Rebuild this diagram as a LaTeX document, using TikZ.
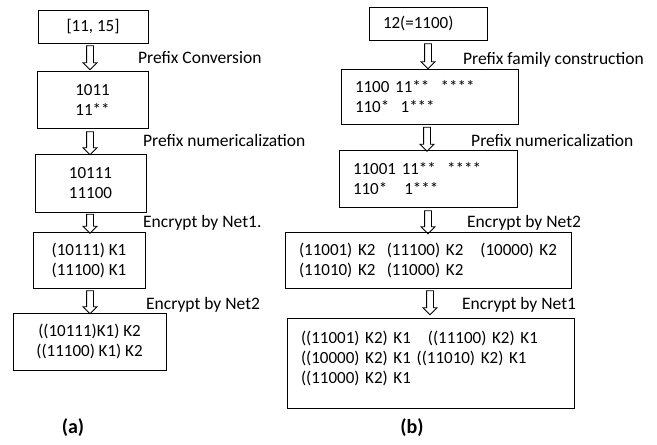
\documentclass[tikz,border=0pt]{standalone}
\usepackage{fontspec}
\setmainfont{Carlito}
\usetikzlibrary{shapes.arrows}

\begin{document}
\begin{tikzpicture}[x=1pt,y=-1pt,
  every node/.style={font=\fontsize{17.5}{20}\selectfont},
  cbox/.style={draw, line width=1pt, align=center, inner sep=0pt, font=\fontsize{17}{20}\selectfont},
  lbox/.style={draw, line width=1pt, align=left, inner xsep=14pt, inner ysep=0pt, font=\fontsize{17}{20}\selectfont},
  darrow/.style={single arrow, draw, line width=.8pt, shape border rotate=270,
    minimum width=13pt, single arrow head extend=3.5pt, inner sep=3pt, minimum height=23pt},
  steplabel/.style={anchor=west, inner sep=0pt},
  caption/.style={font=\fontsize{20}{24}\selectfont\bfseries}]
%\draw[help lines] (0,0) grid[step=20] (657,445);
\useasboundingbox (0,0) rectangle (657,445);

% (a) range
\node[cbox, minimum width=110pt, minimum height=33pt] (l1) at (93,26.5) {[11, 15]};
\node[cbox, minimum width=111pt, minimum height=57pt] (l2) at (92.5,99.5) {1011\\11**};
\node[cbox, minimum width=111pt, minimum height=58pt] (l3) at (90.5,183) {10111\\11100};
\node[cbox, minimum width=112pt, minimum height=56pt] (l4) at (89,260) {(10111) K1\\(11100) K1};
\node[cbox, minimum width=153pt, minimum height=57pt] (l5) at (89.5,341.5) {((10111)K1) K2\\((11100) K1) K2};

\node[darrow, minimum height=24pt] (la1) at (90,56) {};
\node[darrow] (la2) at (90,141.5) {};
\node[darrow, minimum height=19pt] (la3) at (90,222) {};
\node[darrow] (la4) at (90,300.5) {};

\node[steplabel] (lt1) at (138,58) {Prefix Conversion};
\node[steplabel] (lt2) at (143,140) {Prefix numericalization};
\node[steplabel] (lt3) at (143,223) {Encrypt by Net1.};
\node[steplabel] (lt4) at (146,305) {Encrypt by Net2};

\node[caption] (capa) at (73,428) {(a)};

% (b) point
\node[lbox, text width=90pt, minimum height=33pt] (r1) at (428,23.5) {12(=1100)};
\node[lbox, text width=149pt, minimum height=55pt] (r2) at (429.5,96.5) {1100 11**\ \ ****\\110*\ \ 1***};
\node[lbox, text width=150pt, minimum height=57pt] (r3) at (428,178.5) {11001 11**\ \ ****\\110*\ \ \ 1***};
\node[lbox, text width=258pt, minimum height=56pt] (r4) at (428,260)
  {\mbox{(11001) K2\ \ (11100) K2\ \ \ (10000) K2}\\\mbox{(11010) K2\ \ (11000) K2}};
\node[lbox, text width=259pt, minimum height=90pt] (r5) at (430.5,363)
  {\mbox{((11001) K2) K1\ \ \ ((11100) K2) K1}\\\mbox{((10000) K2) K1 ((11010) K2) K1}\\((11000) K2) K1\\[-8pt]\mbox{}};

\node[darrow, minimum height=25pt] (ra1) at (428,54.5) {};
\node[darrow, minimum height=24pt] (ra2) at (427,137.5) {};
\node[darrow] (ra3) at (428,220.5) {};
\node[darrow, minimum height=24pt] (ra4) at (430,301) {};

\node[steplabel] (rt1) at (463,60) {Prefix family construction};
\node[steplabel] (rt2) at (471,140) {Prefix numericalization};
\node[steplabel] (rt3) at (467,223) {Encrypt by Net2};
\node[steplabel] (rt4) at (462,305) {Encrypt by Net1};

\node[caption] (capb) at (412,428) {(b)};

\end{tikzpicture}
\end{document}
